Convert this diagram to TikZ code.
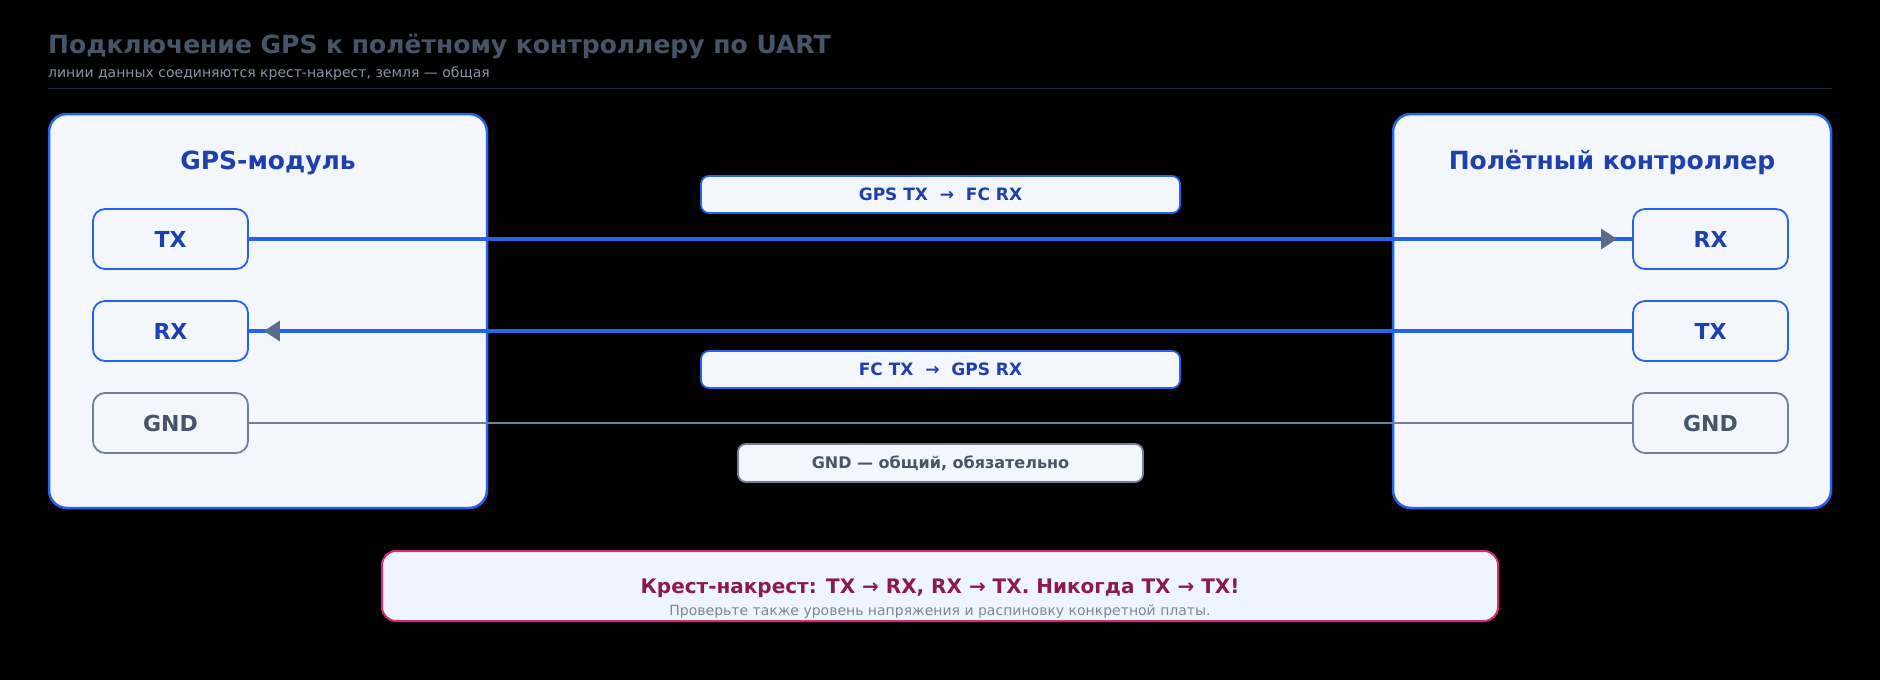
\documentclass[tikz,border=0pt]{standalone}
\usepackage{fontspec}
\setmainfont{DejaVu Sans}
\usetikzlibrary{arrows.meta,decorations.markings}

\definecolor{titlegray}{HTML}{475569}
\definecolor{subgray}{HTML}{8A94A7}
\definecolor{rulegray}{HTML}{1E293B}
\definecolor{boxblue}{HTML}{2563EB}
\definecolor{boxfill}{HTML}{F3F6FD}
\definecolor{headblue}{HTML}{1E40AF}
\definecolor{pingray}{HTML}{718096}
\definecolor{tipgray}{HTML}{5B6B8A}
\definecolor{notepink}{HTML}{DB2777}
\definecolor{notefill}{HTML}{EFF5FF}
\definecolor{notetext}{HTML}{8A1B4E}
\definecolor{notesub}{HTML}{7A889C}

\tikzset{
  unit/.style={draw=boxblue, fill=boxfill, line width=2.5pt, rounded corners=18pt,
    minimum width=438pt, minimum height=394pt, inner sep=0pt},
  unithead/.style={anchor=base, text=headblue, font=\fontsize{25}{29}\selectfont\bfseries},
  pin/.style={draw=boxblue, fill=boxfill, line width=1.8pt, rounded corners=12pt,
    minimum width=155pt, minimum height=60pt, inner sep=0pt, text=headblue,
    font=\fontsize{22}{26}\selectfont\bfseries},
  gndpin/.style={pin, draw=pingray, text=titlegray},
  tag/.style={draw=boxblue, fill=boxfill, line width=1.8pt, rounded corners=8pt,
    minimum width=479pt, minimum height=37pt, inner sep=0pt, text=headblue,
    font=\fontsize{17}{20}\selectfont\bfseries},
  gndtag/.style={tag, draw=pingray, text=titlegray, minimum width=405pt, minimum height=38pt,
    font=\fontsize{16}{19}\selectfont\bfseries},
  wire/.style={draw=boxblue, line width=3.2pt},
  gndwire/.style={draw=pingray, line width=2.5pt},
  tipend/.style={postaction={decorate, decoration={markings,
    mark=at position -15pt with {\arrow{Triangle[length=16pt,width=20pt,color=tipgray]}}}}}
}

\begin{document}
\begin{tikzpicture}[x=1pt, y=-1pt]
    \fill[black] (0,0) rectangle (1880,680);

    \node[anchor=base west, inner sep=0pt, text=titlegray, font=\fontsize{25}{29}\selectfont\bfseries]
      (title) at (48,53) {Подключение GPS к полётному контроллеру по UART};
    \node[anchor=base west, inner sep=0pt, text=subgray, font=\fontsize{14}{17}\selectfont]
      (subtitle) at (48,77) {линии данных соединяются крест-накрест, земля — общая};
    \draw[rulegray, line width=1pt] (48,88) -- (1832,88);

    % modules
    \node[unit] (gps) at (268,311) {};
    \node[unithead] (gpshead) at (268,169) {GPS-модуль};
    \node[unit] (fc) at (1612,311) {};
    \node[unithead] (fchead) at (1612,169) {Полётный контроллер};

    \node[pin] (gtx) at (170.5,239) {TX};
    \node[pin] (grx) at (170.5,331) {RX};
    \node[gndpin] (ggnd) at (170.5,423) {GND};
    \node[pin] (frx) at (1710.5,239) {RX};
    \node[pin] (ftx) at (1710.5,331) {TX};
    \node[gndpin] (fgnd) at (1710.5,423) {GND};

    % wires
    \draw[wire, tipend] (gtx) -- (frx);
    \draw[wire, tipend] (ftx) -- (grx);
    \draw[gndwire] (ggnd) -- (fgnd);

    \node[tag] (txtag) at (940.5,194.5) {GPS TX\ \ →\ \ FC RX};
    \node[tag] (rxtag) at (940.5,369.5) {FC TX\ \ →\ \ GPS RX};
    \node[gndtag] (gndtag) at (940.5,463) {GND — общий, обязательно};

    % note
    \node[draw=notepink, fill=notefill, line width=2pt, rounded corners=14pt,
      minimum width=1116pt, minimum height=70pt] (note) at (940,586) {};
    \node[anchor=base, text=notetext, font=\fontsize{20}{24}\selectfont\bfseries]
      (notehead) at (940,593) {Крест-накрест: TX → RX, RX → TX. Никогда TX → TX!};
    \node[anchor=base, text=notesub, font=\fontsize{14}{17}\selectfont]
      (notebody) at (940,615) {Проверьте также уровень напряжения и распиновку конкретной платы.};
\end{tikzpicture}
\end{document}
